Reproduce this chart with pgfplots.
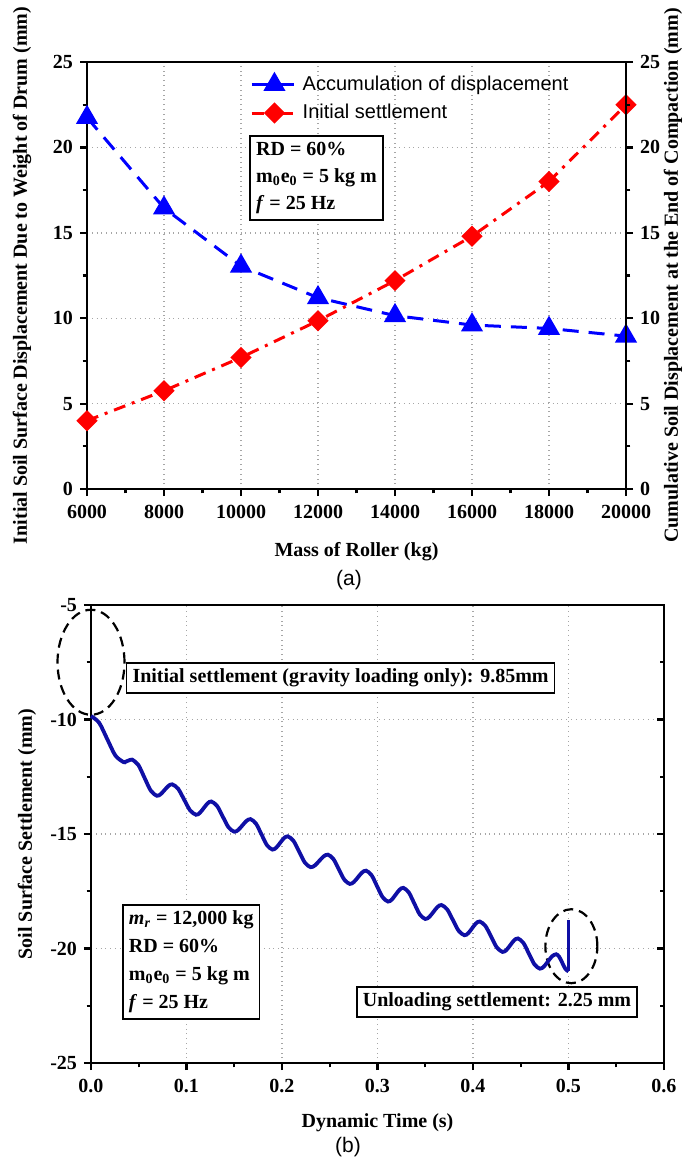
\documentclass[border=0pt]{standalone}
\usepackage{pgfplots}
\pgfplotsset{compat=1.18}
\usepackage{fontspec}
\setmainfont{Liberation Serif}
\newfontfamily\arialfont{Liberation Sans}
\definecolor{curveblue}{RGB}{15,15,165}

\pgfplotsset{
  frame/.style={
    scale only axis,
    axis line style={line width=1.2pt},
    tick style={line width=1.1pt, black},
    major tick length=3.5pt, minor tick length=2.2pt,
    tick align=outside,
    scaled x ticks=false, scaled y ticks=false,
    tick label style={font=\bfseries\fontsize{10}{12}\selectfont},
    label style={font=\bfseries\fontsize{10}{12}\selectfont},
    grid style={gray!70, dotted, line width=0.7pt},
  },
}
\tikzset{
  boxnote/.style={draw, line width=0.9pt, fill=white, inner sep=3pt,
    font=\bfseries\fontsize{10}{13.5}\selectfont},
}

\begin{document}
\begin{tikzpicture}
\useasboundingbox (0,0) rectangle (343pt,-578.5pt);

% ---------------- (a) roller mass study ----------------
\begin{axis}[frame,
  at={(43.5pt,-244.5pt)}, anchor=south west,
  width=269.5pt, height=213.5pt,
  xmin=6000, xmax=20000, ymin=0, ymax=25,
  xtick={6000,8000,10000,12000,14000,16000,18000,20000},
  xticklabels={6000,8000,10000,12000,14000,16000,18000,20000},
  ytick={0,5,10,15,20,25}, yticklabels={0,5,10,15,20,25},
  minor x tick num=1, minor y tick num=1,
  xtick pos=left, ytick pos=left,
  xticklabel style={yshift=-1pt},
  xmajorgrids, ymajorgrids,
  xlabel={Mass of Roller (kg)},
  ylabel={Initial Soil Surface Displacement Due to Weight of Drum (mm)},
  xlabel style={at={(axis description cs:0.5,-0.1475)}, anchor=center},
  ylabel style={at={(axis description cs:-0.1206,0.5)}, anchor=center},
  legend style={at={(axis description cs:0.302,0.978)}, anchor=north west,
    draw=none, fill=none, font=\arialfont\fontsize{10}{12}\selectfont,
    row sep=1.5pt, inner sep=0pt, nodes={inner sep=2pt}},
  legend cell align=left,
  legend image code/.code={\draw[mark repeat=2,mark phase=2,#1]
    plot coordinates {(0cm,0cm) (0.4cm,0cm) (0.8cm,0cm)};},
]
\addplot[blue, line width=1.5pt, dash pattern=on 8pt off 5pt,
  mark=triangle*, mark size=4.9pt, mark options={solid}]
  coordinates {(6000,21.75) (8000,16.45) (10000,13.05) (12000,11.2)
               (14000,10.15) (16000,9.6) (18000,9.4) (20000,8.95)};
\addlegendentry{Accumulation of displacement}
\addplot[red, line width=1.5pt, dash pattern=on 6pt off 3.5pt on 1.5pt off 3.5pt,
  mark=square*, mark size=3pt, mark options={solid, rotate=45}]
  coordinates {(6000,4.0) (8000,5.75) (10000,7.7) (12000,9.85)
               (14000,12.2) (16000,14.8) (18000,18.0) (20000,22.5)};
\addlegendentry{Initial settlement}
\node[boxnote, align=left] at (axis cs:11961,18.2)
  {RD = 60\%\\ m\textsubscript{0}e\textsubscript{0} = 5 kg m\\ \textit{f} = 25 Hz};
\end{axis}

% right-hand scale of (a)
\begin{axis}[frame,
  at={(43.5pt,-244.5pt)}, anchor=south west,
  width=269.5pt, height=213.5pt,
  xmin=6000, xmax=20000, ymin=0, ymax=25,
  hide x axis, axis y line*=right, ytick pos=right,
  ytick={0,5,10,15,20,25}, yticklabels={0,5,10,15,20,25},
  minor y tick num=1,
  ylabel={Cumulative Soil Displacement at the End of Compaction (mm)},
  ylabel style={at={(axis description cs:1.087,0.5)}, anchor=center},
]
\end{axis}

% ---------------- (b) settlement history ----------------
\begin{axis}[frame,
  at={(45.5pt,-531.5pt)}, anchor=south west,
  width=286.5pt, height=229pt,
  xmin=0, xmax=0.6, ymin=-25, ymax=-5,
  xtick={0,0.1,0.2,0.3,0.4,0.5,0.6},
  xticklabels={0.0,0.1,0.2,0.3,0.4,0.5,0.6},
  ytick={-25,-20,-15,-10,-5}, yticklabels={-25,-20,-15,-10,-5},
  minor x tick num=1, minor y tick num=1,
  xtick pos=left, ytick pos=left,
  xticklabel style={yshift=-1pt},
  xmajorgrids, ymajorgrids,
  clip=false,
  xlabel={Dynamic Time (s)},
  ylabel={Soil Surface Settlement (mm)},
  xlabel style={at={(axis description cs:0.5,-0.131)}, anchor=center},
  ylabel style={at={(axis description cs:-0.1117,0.5)}, anchor=center},
]
\draw[line width=1.1pt, dash pattern=on 5pt off 3pt]
  (axis cs:0,-7.5) ellipse [x radius=16.75pt, y radius=26.25pt];
\draw[line width=1.1pt, dash pattern=on 5pt off 3pt]
  (axis cs:0.503,-19.9) ellipse [x radius=13pt, y radius=18.5pt];
\addplot[curveblue, line width=1.9pt, smooth, tension=0.5] coordinates {
  (0.000,-9.85) (0.0085,-10.14) (0.017,-10.855) (0.0255,-11.57)
  (0.034,-11.86) (0.03625,-11.844) (0.0385,-11.805) (0.04075,-11.766)
  (0.043,-11.75) (0.0495,-11.98) (0.056,-12.54) (0.0625,-13.10)
  (0.069,-13.33) (0.073,-13.257) (0.077,-13.08) (0.081,-12.903)
  (0.085,-12.83) (0.09125,-13.024) (0.0975,-13.495) (0.10375,-13.966)
  (0.110,-14.16) (0.114,-14.075) (0.118,-13.87) (0.122,-13.665)
  (0.126,-13.58) (0.132,-13.773) (0.138,-14.24) (0.144,-14.707)
  (0.150,-14.90) (0.15425,-14.82) (0.1585,-14.625) (0.16275,-14.43)
  (0.167,-14.35) (0.17275,-14.544) (0.1785,-15.015) (0.18425,-15.486)
  (0.190,-15.68) (0.194,-15.595) (0.198,-15.39) (0.202,-15.185)
  (0.206,-15.10) (0.212,-15.297) (0.218,-15.775) (0.224,-16.253)
  (0.230,-16.45) (0.2345,-16.37) (0.239,-16.175) (0.2435,-15.98)
  (0.248,-15.90) (0.25375,-16.087) (0.2595,-16.54) (0.26525,-16.993)
  (0.271,-17.18) (0.27525,-17.095) (0.2795,-16.89) (0.28375,-16.685)
  (0.288,-16.60) (0.29375,-16.797) (0.2995,-17.275) (0.30525,-17.753)
  (0.311,-17.95) (0.315,-17.862) (0.319,-17.65) (0.323,-17.438)
  (0.327,-17.35) (0.33275,-17.549) (0.3385,-18.03) (0.34425,-18.511)
  (0.350,-18.71) (0.35425,-18.621) (0.3585,-18.405) (0.36275,-18.189)
  (0.367,-18.10) (0.373,-18.293) (0.379,-18.76) (0.385,-19.227)
  (0.391,-19.42) (0.395,-19.332) (0.399,-19.12) (0.403,-18.908)
  (0.407,-18.82) (0.413,-19.014) (0.419,-19.485) (0.425,-19.956)
  (0.431,-20.15) (0.435,-20.064) (0.439,-19.855) (0.443,-19.646)
  (0.447,-19.56) (0.45275,-19.753) (0.4585,-20.22) (0.46425,-20.687)
  (0.470,-20.88) (0.47425,-20.788) (0.4785,-20.565) (0.48275,-20.342)
  (0.487,-20.25) (0.49025,-20.36) (0.4935,-20.625) (0.49675,-20.89)
  (0.500,-21.00)};
% unloading rebound at the end of the run
\addplot[curveblue, line width=1.9pt] coordinates {(0.5,-21.0) (0.5,-18.75)};
\node[boxnote] at (axis cs:0.2613,-8.19)
  {Initial settlement (gravity loading only): 9.85mm};
\node[boxnote] at (axis cs:0.4251,-22.34) {Unloading settlement: 2.25 mm};
\node[boxnote, align=left, font=\bfseries\fontsize{10}{14}\selectfont]
  at (axis cs:0.105,-20.59)
  {\textit{m}\textsubscript{\textit{r}} = 12,000 kg\\ RD = 60\%\\
   m\textsubscript{0}e\textsubscript{0} = 5 kg m\\ \textit{f} = 25 Hz};
\end{axis}

% inward ticks on the right edge of (b)
\begin{axis}[frame,
  at={(45.5pt,-531.5pt)}, anchor=south west,
  width=286.5pt, height=229pt,
  xmin=0, xmax=0.6, ymin=-25, ymax=-5,
  hide x axis, axis y line*=right, ytick pos=right, tick align=inside,
  ytick={-25,-20,-15,-10,-5}, yticklabels={}, minor y tick num=1,
]
\end{axis}

\node[font=\arialfont\fontsize{10.5}{12}\selectfont] at (174.5pt,-290pt) {(a)};
\node[font=\arialfont\fontsize{10.5}{12}\selectfont] at (174pt,-573.5pt) {(b)};
\end{tikzpicture}
\end{document}
